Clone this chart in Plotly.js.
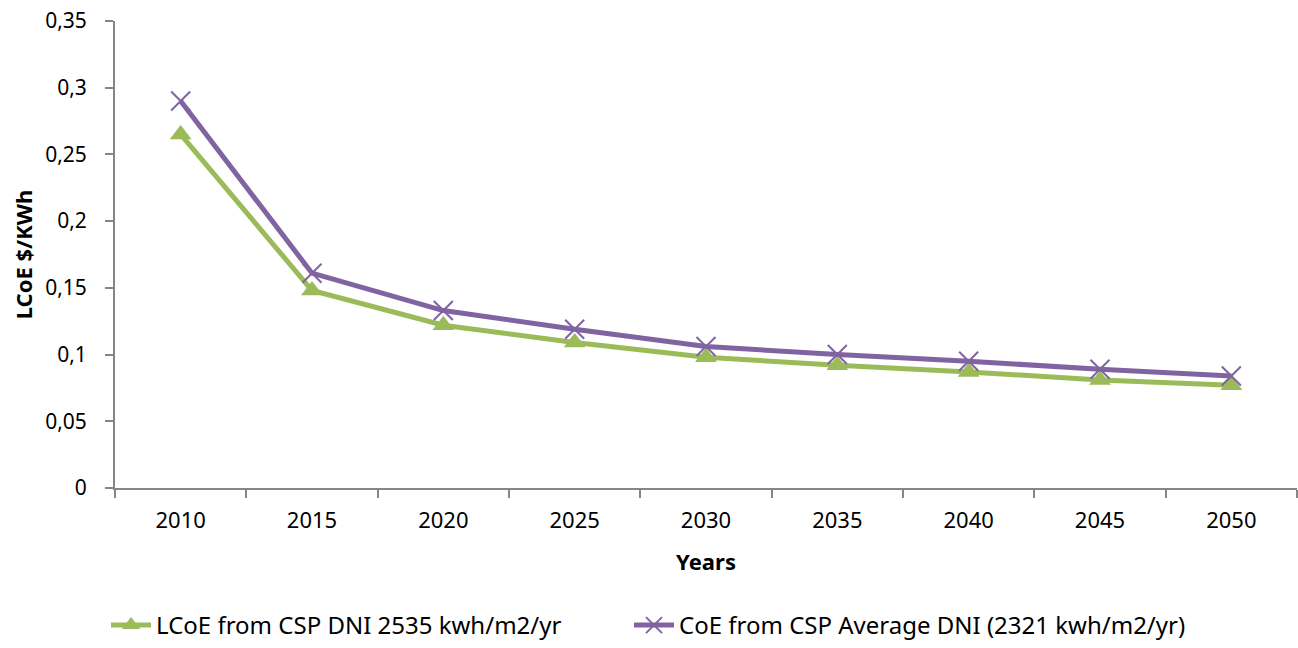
<!DOCTYPE html>
<html>
<head>
<meta charset="utf-8">
<script src="https://cdn.plot.ly/plotly-3.0.1.min.js"></script>
<style>
  html, body { margin: 0; padding: 0; background: #fff; }
  #chart { width: 1298px; height: 648px; }
</style>
</head>
<body>
<div id="chart"></div>
<script>
// Years on the category axis
const years = ['2010', '2015', '2020', '2025', '2030', '2035', '2040', '2045', '2050'];

// Levelised cost of electricity, $/kWh
const lcoeDni2535 = [0.265, 0.148, 0.122, 0.109, 0.098, 0.092, 0.087, 0.081, 0.077];
const coeAvgDni2321 = [0.290, 0.161, 0.133, 0.119, 0.106, 0.100, 0.095, 0.089, 0.084];

const seriesNames = [
  'LCoE from CSP DNI 2535 kwh/m2/yr',
  'CoE from CSP Average DNI (2321 kwh/m2/yr)'
];

const FONT = 'Noto Sans, Open Sans, sans-serif';
const GREEN = '#9BBB59';
const PURPLE = '#8064A2';
const AXIS = '#868686';

const traces = [
  {
    x: years, y: lcoeDni2535, name: seriesNames[0], legend: 'legend',
    type: 'scatter', mode: 'lines+markers',
    line: { color: GREEN, width: 5 },
    marker: { symbol: 'triangle-up', size: 19, color: GREEN }
  },
  {
    x: years, y: coeAvgDni2321, name: seriesNames[1], legend: 'legend2',
    type: 'scatter', mode: 'lines+markers',
    line: { color: PURPLE, width: 5 },
    marker: { symbol: 'x-thin-open', size: 19, color: PURPLE, line: { color: PURPLE, width: 2 } }
  }
];

// One legend box per series, placed side by side under the axis
const legendBase = {
  xref: 'container', yref: 'container', xanchor: 'left', yanchor: 'bottom',
  y: 0, orientation: 'h',
  font: { family: FONT, size: 24, color: '#000' },
  itemwidth: 40, bgcolor: 'rgba(0,0,0,0)'
};

const layout = {
  width: 1298, height: 648,
  margin: { l: 115, r: 1, t: 21, b: 160 },
  paper_bgcolor: '#ffffff', plot_bgcolor: '#ffffff',
  separators: ', ',
  font: { family: FONT, size: 21, color: '#000' },
  showlegend: true,
  legend: Object.assign({}, legendBase, { x: 0.0817 }),
  legend2: Object.assign({}, legendBase, { x: 0.4846 }),
  xaxis: {
    type: 'category', range: [-0.5, 8.5],
    showgrid: false, zeroline: false,
    showline: true, linecolor: AXIS, linewidth: 2,
    ticks: 'outside', tickson: 'boundaries', ticklen: 8, tickwidth: 2, tickcolor: AXIS,
    ticklabelstandoff: 12,
    tickfont: { family: FONT, size: 22 },
    title: { text: '<b>Years</b>', font: { family: FONT, size: 22 }, standoff: 21 },
    automargin: false, fixedrange: true
  },
  yaxis: {
    range: [0, 0.35], dtick: 0.05, tick0: 0,
    showgrid: false, zeroline: false,
    showline: true, linecolor: AXIS, linewidth: 2,
    ticks: 'outside', ticklen: 8, tickwidth: 2, tickcolor: AXIS,
    ticklabelstandoff: 14,
    tickfont: { family: FONT, size: 21 },
    title: { text: '<b>LCoE $/KWh</b>', font: { family: FONT, size: 22 }, standoff: 6 },
    automargin: false, fixedrange: true
  }
};

Plotly.newPlot('chart', traces, layout, { displayModeBar: false, staticPlot: true });
</script>
</body>
</html>
